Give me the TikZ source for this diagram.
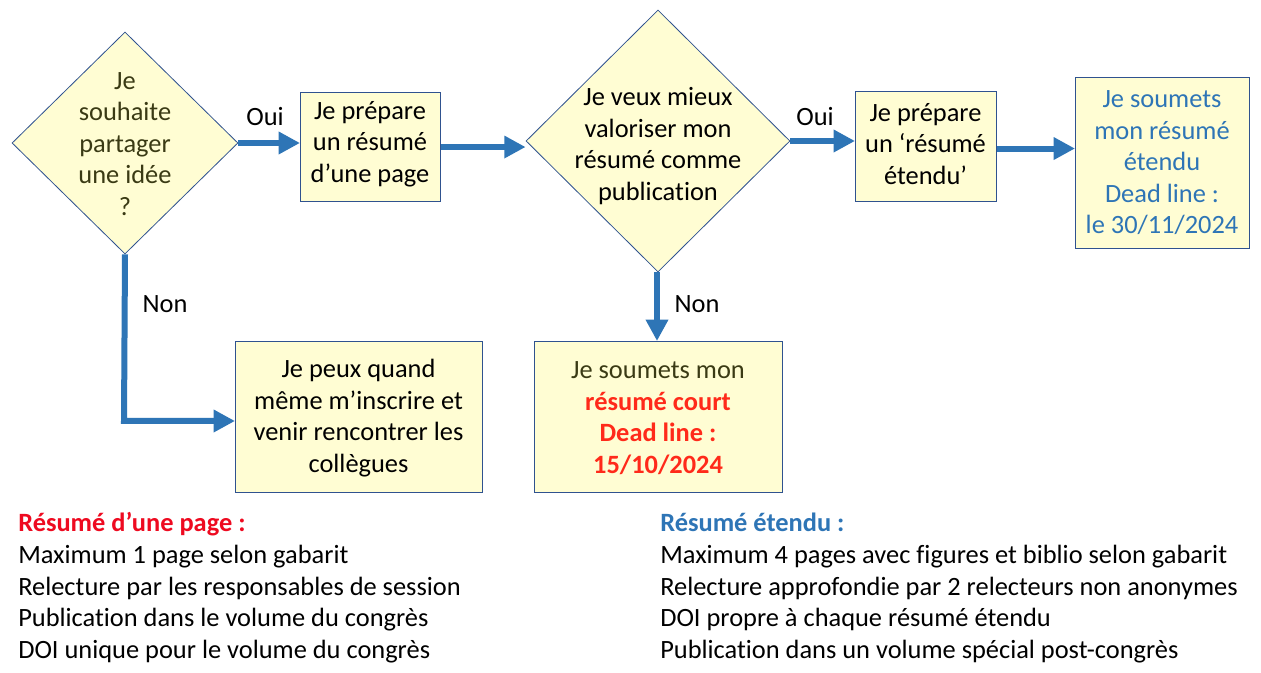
\documentclass[tikz,border=0pt]{standalone}
\usepackage{fontspec}
\setmainfont[Ligatures=NoCommon]{Carlito}
\usetikzlibrary{shapes.geometric,arrows.meta}
\definecolor{boxfill}{HTML}{FFFDD3}
\definecolor{boxline}{HTML}{2F528F}
\definecolor{arrowblue}{HTML}{2E75B6}
\definecolor{txtblue}{HTML}{2E75B6}
\definecolor{txtred}{HTML}{FF2A1A}
\definecolor{hdred}{HTML}{EE0A20}
\definecolor{olive}{HTML}{3A3A14}
\tikzset{
  box/.style={draw=boxline, line width=0.8pt, fill=boxfill, rectangle, inner sep=0pt, anchor=north west},
  dia/.style={draw=boxline, line width=0.6pt, fill=boxfill, diamond, inner sep=0pt},
  boxtext/.style={align=center, font=\fontsize{19.8}{23.6}\selectfont, inner sep=0pt},
  flow/.style={draw=arrowblue, line width=4.5pt, -{Triangle[length=16pt,width=16pt]}},
  lab/.style={font=\fontsize{19.8}{22}\selectfont, inner sep=0pt},
  note/.style={font=\fontsize{19.8}{22}\selectfont, inner sep=0pt, anchor=base west},
}
\begin{document}
\begin{tikzpicture}[x=0.75pt,y=-0.75pt]
\useasboundingbox[fill=white] (0,0) rectangle (1261,673);

% diamonds
\node[dia, minimum width=226*0.75pt, minimum height=222*0.75pt] (d1) at (125,143) {};
\node[boxtext, text=olive] (d1t) at (125,144) {Je\\souhaite\\partager\\une idée\\?};
\node[dia, minimum width=264*0.75pt, minimum height=262*0.75pt] (d2) at (658,141) {};
\node[boxtext] (d2t) at (658,146) {Je veux mieux\\valoriser mon\\résumé comme\\publication};

% boxes
\node[box, minimum width=140*0.75pt, minimum height=109*0.75pt] (b1) at (300,92) {};
\node[boxtext] (b1t) at (370,144) {Je prépare\\un résumé\\d’une page};
\node[box, minimum width=141*0.75pt, minimum height=110*0.75pt] (b3) at (855,91) {};
\node[boxtext] (b3t) at (925.5,144) {Je prépare\\un ‘résumé\\étendu’};
\node[box, minimum width=174*0.75pt, minimum height=171*0.75pt] (b4) at (1075,77) {};
\node[boxtext, text=txtblue] (b4t) at (1162,163) {Je soumets\\mon résumé\\étendu\\Dead line :\\le 30/11/2024};
\node[box, minimum width=247*0.75pt, minimum height=151*0.75pt] (b5) at (235,341) {};
\node[boxtext] (b5t) at (358.5,418) {Je peux quand\\même m’inscrire et\\venir rencontrer les\\collègues};
\node[box, minimum width=248*0.75pt, minimum height=151*0.75pt] (b6) at (534,341) {};
\node[boxtext] (b6t) at (658,418) {\textcolor{olive}{Je soumets mon}\\\textcolor{txtred}{\bfseries résumé court}\\\textcolor{txtred}{\bfseries Dead line :}\\\textcolor{txtred}{\bfseries 15/10/2024}};

% connectors
\draw[flow] (d1.east) -- (d1.east -| b1.west);
\draw[flow] (b1.east) -- (b1.east -| d2.west);
\draw[flow] (d2.east) -- (d2.east -| b3.west);
\draw[flow] ([yshift=-1.5pt]b3.east) -- ([yshift=-1.5pt]b3.east -| b4.west);
\coordinate (c1) at (124,421);
\draw[flow] (d1.south) -- (c1) -- (c1 -| b5.west);
\draw[flow] ([xshift=-0.75pt]d2.south) -- ([xshift=-0.75pt]d2.south |- b6.north);

% labels
\node[lab] (oui1) at (265,117) {Oui};
\node[lab] (oui2) at (815,117) {Oui};
\node[lab] (non1) at (165,304) {Non};
\node[lab] (non2) at (697,304) {Non};

% notes
\node[note, text=hdred, font=\fontsize{19.8}{22}\selectfont\bfseries] (la) at (18,532) {Résumé d’une page :};
\node[note] (lb) at (18,563.5) {Maximum 1 page selon gabarit};
\node[note] (lc) at (18,595) {Relecture par les responsables de session};
\node[note] (ld) at (18,626.5) {Publication dans le volume du congrès};
\node[note] (le) at (18,658) {DOI unique pour le volume du congrès};
\node[note, text=txtblue, font=\fontsize{19.8}{22}\selectfont\bfseries] (ra) at (660,532) {Résumé étendu :};
\node[note] (rb) at (660,563.5) {Maximum 4 pages avec figures et biblio selon gabarit};
\node[note] (rc) at (660,595) {Relecture approfondie par 2 relecteurs non anonymes};
\node[note] (rd) at (660,626.5) {DOI propre à chaque résumé étendu};
\node[note] (re) at (660,658) {Publication dans un volume spécial post-congrès};
\end{tikzpicture}
\end{document}
